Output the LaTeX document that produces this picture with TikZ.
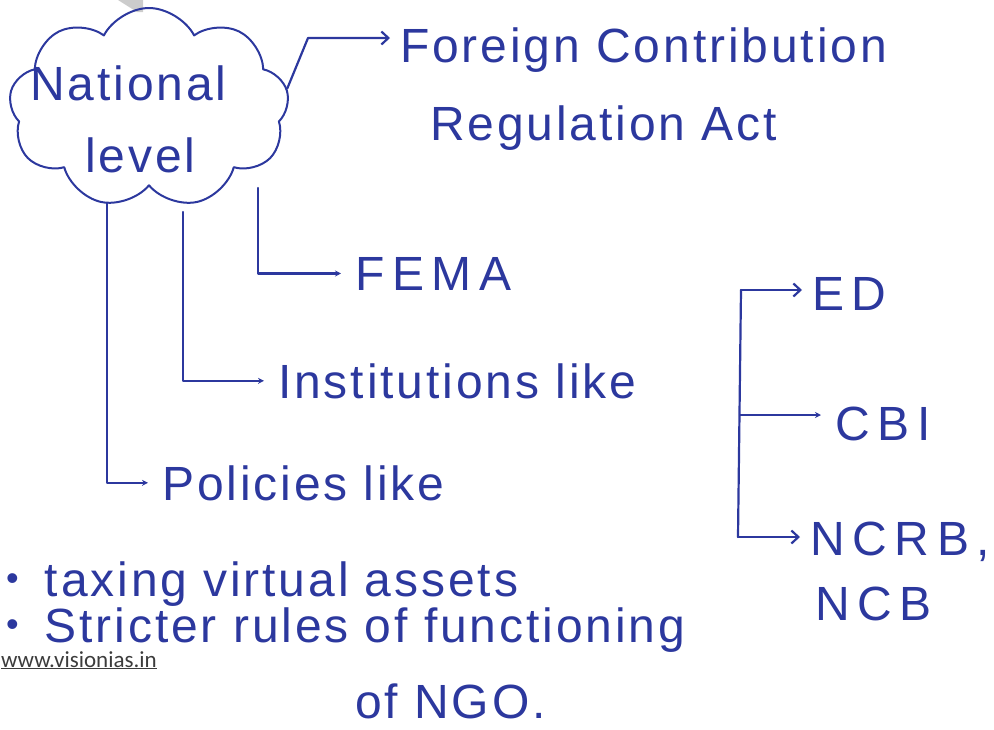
\documentclass[tikz,border=0pt]{standalone}
\usepackage{fontspec}
\setmainfont{Liberation Sans}
\newfontfamily\handfont[LetterSpace=6]{Liberation Sans}
\newfontfamily\webfont{Carlito}
\usetikzlibrary{positioning, shapes.symbols, arrows.meta}
\definecolor{ink}{RGB}{44,56,158}
\definecolor{webgray}{RGB}{60,60,60}
\tikzset{hand/.style={font=\handfont\fontsize{48}{56}\selectfont, text=ink, inner sep=2pt, anchor=base west}}
\tikzset{handcaps/.style={hand, font=\handfont\addfontfeature{LetterSpace=16}\fontsize{48}{56}\selectfont}}
\tikzset{pen/.style={draw=ink, line width=2.2pt, line cap=round, line join=round}}
\tikzset{arrbarb/.style={pen, -{Straight Barb[length=7pt,width=13pt]}, shorten >=8pt}}
\tikzset{arrdot/.style={pen, -{Stealth[length=6pt,width=6pt]}, shorten >=12pt}}
\newcommand{\dotmark}{\raisebox{6pt}{\fontsize{36}{36}\selectfont\textbullet}}

\begin{document}
\begin{tikzpicture}[x=1pt, y=-1pt]
	\useasboundingbox (0,0) rectangle (994,729);
	% scanner mark at the top edge
	\fill[gray!40] (118,0) -- (143,0) -- (143,12) -- (137,12) -- cycle;

	% the cloud
	\node[cloud, cloud puffs=9, cloud puff arc=125, aspect=1.4, pen, line width=2pt,
		minimum width=280pt, minimum height=200pt, inner sep=0pt] (nat) at (149,108) {};
	\node[hand] (natA) at (28,100) {National};
	\node[hand] (natB) at (83,172) {level};

	% first level
	\node[hand] (fcraA) at (398,62) {Foreign Contribution};
	\node[hand] (fcraB) at (428,140) {Regulation Act};
	\node[handcaps] (fema) at (353,290) {FEMA};
	\node[hand] (inst) at (276,398) {Institutions like};
	\node[hand] (pol) at (160,500) {Policies like};

	% institutions
	\node[handcaps] (ed) at (810,310) {ED};
	\node[handcaps] (cbi) at (833,440) {CBI};
	\node[handcaps] (ncrb) at (808,555) {NCRB,};
	\node[handcaps] (ncb) at (813,620) {NCB};

	% policies
	\node[hand] (tax) at (4,596) {\dotmark\hspace{26pt}taxing virtual assets};
	\node[hand] (ngoA) at (4,642) {\dotmark\hspace{26pt}Stricter rules of functioning};
	\node[hand] (ngoB) at (353,718) {of NGO.};

	% footer
	\node[font=\webfont\fontsize{23}{26}\selectfont, text=webgray, inner sep=0pt, anchor=base west]
		(web) at (1,667) {\underline{www.visionias.in}};

	% connectors
	\coordinate (fcraKnee) at (308,38);
	\coordinate (femaTop) at (258,188);
	\coordinate (instTop) at (183,212);
	\coordinate (polTop) at (107,203);
	\coordinate (brTop) at (741,290);
	\coordinate (brMid) at (740,415);
	\coordinate (brBot) at (738,537);
	\draw[arrbarb] (nat.8) -- (fcraKnee) -- (fcraKnee -| fcraA.west);
	\draw[arrdot] (femaTop) |- (fema.west);
	\draw[arrdot] (instTop) |- (inst.west);
	\draw[arrdot] (polTop) |- (pol.west);
	\draw[pen] (brTop) -- (brBot);
	\draw[arrbarb] (brTop) -- (brTop -| ed.west);
	\draw[arrdot] (brMid) -- (brMid -| cbi.west);
	\draw[arrbarb] (brBot) -- (brBot -| ncrb.west);
\end{tikzpicture}
\end{document}
